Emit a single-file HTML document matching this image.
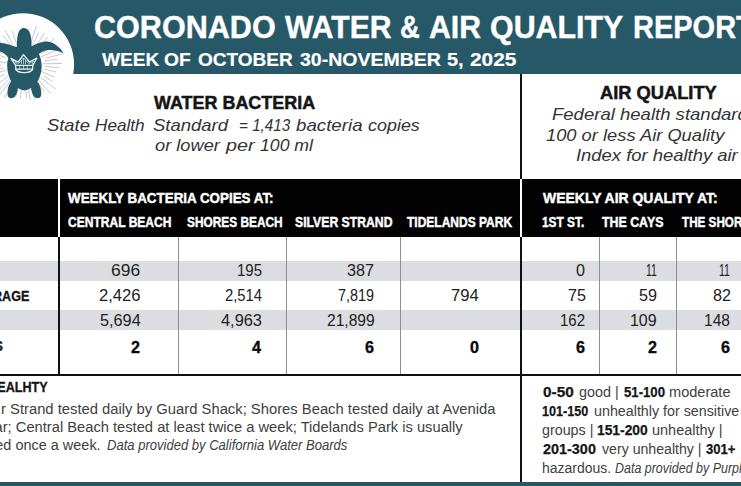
<!DOCTYPE html>
<html><head><meta charset="utf-8">
<style>
html,body{margin:0;padding:0;}
body{width:741px;height:486px;overflow:hidden;position:relative;background:#fff;font-family:"Liberation Sans",sans-serif;}
.r{position:absolute;}
.t{position:absolute;white-space:nowrap;transform-origin:0 0;}
</style></head><body>
<div class="r" style="left:0;top:0;width:741px;height:74px;background:#265868"></div>
<svg class="r" style="left:0;top:0" width="110" height="120" viewBox="0 0 110 120">
  <defs><clipPath id="hc"><rect x="0" y="0" width="110" height="74"/></clipPath></defs>
  <circle cx="23" cy="64.3" r="51.1" fill="#fff" clip-path="url(#hc)"/>
  <g stroke="#a3abad" stroke-width="0.65" stroke-linecap="round"><line x1="43.2" y1="63.8" x2="61.5" y2="63.5"/><line x1="45.4" y1="66.3" x2="59.0" y2="67.8"/><line x1="44.7" y1="69.2" x2="55.6" y2="71.9"/><line x1="41.2" y1="71.4" x2="54.3" y2="77.2"/><line x1="43.8" y1="76.1" x2="52.4" y2="81.3"/><line x1="41.2" y1="77.7" x2="55.1" y2="88.9"/><line x1="37.9" y1="79.2" x2="50.8" y2="93.7"/><line x1="37.8" y1="82.8" x2="44.4" y2="91.8"/><line x1="32.9" y1="80.6" x2="40.2" y2="94.6"/><line x1="29.8" y1="82.3" x2="34.9" y2="99.1"/><line x1="27.6" y1="84.0" x2="30.3" y2="99.9"/><line x1="25.5" y1="82.3" x2="26.5" y2="97.6"/><line x1="21.9" y1="84.4" x2="20.3" y2="98.3"/><line x1="19.2" y1="84.1" x2="15.8" y2="97.3"/><line x1="15.6" y1="84.4" x2="10.9" y2="95.2"/><line x1="13.6" y1="82.3" x2="4.6" y2="97.7"/><line x1="11.9" y1="79.3" x2="-0.7" y2="95.0"/><line x1="9.9" y1="78.6" x2="-2.4" y2="91.2"/><line x1="7.7" y1="76.7" x2="-1.4" y2="83.6"/><line x1="4.2" y1="74.4" x2="-8.2" y2="80.8"/><line x1="5.4" y1="70.3" x2="-11.3" y2="75.9"/><line x1="3.3" y1="68.3" x2="-10.6" y2="71.2"/><line x1="0.7" y1="65.1" x2="-11.5" y2="65.6"/><line x1="6.0" y1="62.5" x2="-13.2" y2="60.9"/><line x1="0.9" y1="58.8" x2="-13.3" y2="55.6"/><line x1="5.1" y1="57.3" x2="-11.0" y2="51.8"/><line x1="5.6" y1="54.9" x2="-5.6" y2="49.3"/><line x1="9.2" y1="53.6" x2="-7.1" y2="42.4"/><line x1="9.9" y1="50.8" x2="-1.6" y2="40.3"/><line x1="13.3" y1="49.1" x2="3.1" y2="35.4"/><line x1="12.7" y1="43.8" x2="5.1" y2="30.5"/><line x1="17.4" y1="45.6" x2="11.9" y2="30.9"/><line x1="31.3" y1="41.8" x2="36.2" y2="26.2"/><line x1="32.2" y1="46.7" x2="38.4" y2="33.2"/><line x1="35.7" y1="46.5" x2="44.3" y2="33.2"/><line x1="36.1" y1="50.4" x2="47.5" y2="37.3"/><line x1="40.6" y1="50.1" x2="54.4" y2="38.3"/><line x1="42.3" y1="53.1" x2="55.9" y2="44.8"/><line x1="41.1" y1="56.8" x2="60.3" y2="48.5"/><line x1="46.8" y1="58.0" x2="61.4" y2="54.1"/><line x1="44.5" y1="61.0" x2="56.8" y2="59.2"/></g>
  <g fill="#265868">
    <path d="M17.2,49 C16.6,41 17.2,34 19.5,30.5 C21,28.6 22.6,28 24,28 C25.6,28 27.4,28.8 28.8,30.8 C31.2,34.4 31.8,41 31.4,49 Z"/>
    <path d="M24.4,44.5 C35,44.5 41.8,55 41.7,66 C41.6,78 35,89 24.4,90.5 C14,89 7.2,78 7.2,66 C7.2,55 14,44.5 24.4,44.5 Z"/>
    <path d="M30.5,47 C35,44 41,41.5 47.5,41.5 C54,42 60,47.5 63.8,53.4 C59,50.8 54,49.6 48,50 C43.5,50.6 40,52.5 36.5,56 Z"/>
    <path d="M18,47.5 C13,46 7,43 0,42.7 C-6,43 -12,48 -15.5,54 C-10,51.5 -5,51 0,51.5 C3,52 6,54 8.6,58.5 Z"/>
    <path d="M12.5,80 C8.5,84 7,90 7.6,95 C8.3,98.8 12.5,99 15,96.5 C17.6,93 18.2,88 17.6,84 Z"/>
    <path d="M36,80 C40,84 41.6,90 41.2,95 C40.6,98.8 36.5,99 34,96.5 C31.4,93 30.6,88 31.2,84 Z"/>
    
  </g>
  <g fill="none" stroke="#e6eff1" stroke-width="1.3" stroke-linejoin="round" stroke-linecap="round">
    <path d="M15.6,65.4 L11,58.4 L18.2,62 L23.5,54.6 L29.4,62 L36.8,58.2 L32.8,65.4 Z"/>
    <path d="M15.6,65.5 L15.8,69.2 L32.6,69.2 L32.8,65.5"/>
    <path d="M15.8,69.4 C18,73.6 30.4,73.6 32.6,69.4"/>
    <path d="M16.4,63.8 L14.8,61.2 L18.6,63.6 L23.5,57.8 L28.8,63.6 L33.4,61 L32.2,63.8" stroke-width="0.7"/>
    <path d="M19.8,65.6 L19.8,69 M23.5,65.6 L23.5,69 M27.2,65.6 L27.2,69 M21.5,60.5 L21.5,63.6 M23.5,58.5 L23.5,63.6 M25.5,60.5 L25.5,63.6" stroke-width="0.7"/>
  </g>
</svg>
<div class="r" style="left:0;top:179px;width:741px;height:58px;background:#020202"></div>
<div class="r" style="left:58px;top:179px;width:2px;height:58px;background:#fff"></div>
<div class="r" style="left:520px;top:179px;width:2px;height:58px;background:#fff"></div>
<div class="r" style="left:0;top:261px;width:741px;height:20px;background:#dcdde0"></div>
<div class="r" style="left:0;top:310px;width:741px;height:20px;background:#dcdde0"></div>
<div class="r" style="left:58px;top:237px;width:2px;height:138px;background:#111"></div>
<div class="r" style="left:520px;top:74px;width:2px;height:105px;background:#111"></div>
<div class="r" style="left:520px;top:237px;width:2px;height:245px;background:#111"></div>
<div class="r" style="left:178px;top:237px;width:1px;height:138px;background:#8f8f8f"></div>
<div class="r" style="left:286px;top:237px;width:1px;height:138px;background:#8f8f8f"></div>
<div class="r" style="left:400px;top:237px;width:1px;height:138px;background:#8f8f8f"></div>
<div class="r" style="left:599px;top:237px;width:1px;height:138px;background:#8f8f8f"></div>
<div class="r" style="left:676px;top:237px;width:1px;height:138px;background:#8f8f8f"></div>
<div class="r" style="left:0;top:374px;width:741px;height:2px;background:#111"></div>
<div class="r" style="left:0;top:482px;width:741px;height:4px;background:#265868"></div>
<div id="tw0" class="t" style="left:94.00px;top:9.00px;font-size:30.5px;line-height:36.6px;font-weight:bold;font-style:normal;color:#ffffff;transform:scaleX(1.0022);-webkit-text-stroke-width:0.4px">CORONADO</div>
<div id="tw1" class="t" style="left:285.20px;top:9.00px;font-size:30.5px;line-height:36.6px;font-weight:bold;font-style:normal;color:#ffffff;transform:scaleX(0.9879);-webkit-text-stroke-width:0.4px">WATER</div>
<div id="tw2" class="t" style="left:400.00px;top:9.00px;font-size:30.5px;line-height:36.6px;font-weight:bold;font-style:normal;color:#ffffff;transform:scaleX(0.8952);-webkit-text-stroke-width:0.4px">&amp;</div>
<div id="tw3" class="t" style="left:429.01px;top:9.00px;font-size:30.5px;line-height:36.6px;font-weight:bold;font-style:normal;color:#ffffff;transform:scaleX(0.9902);-webkit-text-stroke-width:0.4px">AIR</div>
<div id="tw4" class="t" style="left:489.80px;top:9.00px;font-size:30.5px;line-height:36.6px;font-weight:bold;font-style:normal;color:#ffffff;transform:scaleX(0.9962);-webkit-text-stroke-width:0.4px">QUALITY</div>
<div id="tw5" class="t" style="left:633.00px;top:9.00px;font-size:30.5px;line-height:36.6px;font-weight:bold;font-style:normal;color:#ffffff;transform:scaleX(0.9504);-webkit-text-stroke-width:0.4px">REPORT</div>
<div id="sw0" class="t" style="left:101.70px;top:49.00px;font-size:19px;line-height:22.8px;font-weight:bold;font-style:normal;color:#ffffff;transform:scaleX(1.0070);-webkit-text-stroke-width:0.2px">WEEK</div>
<div id="sw1" class="t" style="left:164.49px;top:49.00px;font-size:19px;line-height:22.8px;font-weight:bold;font-style:normal;color:#ffffff;transform:scaleX(1.0120);-webkit-text-stroke-width:0.2px">OF</div>
<div id="sw2" class="t" style="left:198.20px;top:49.00px;font-size:19px;line-height:22.8px;font-weight:bold;font-style:normal;color:#ffffff;transform:scaleX(1.0011);-webkit-text-stroke-width:0.2px">OCTOBER</div>
<div id="sw3" class="t" style="left:299.90px;top:49.00px;font-size:19px;line-height:22.8px;font-weight:bold;font-style:normal;color:#ffffff;transform:scaleX(1.0270);-webkit-text-stroke-width:0.2px">30-NOVEMBER</div>
<div id="sw4" class="t" style="left:447.16px;top:49.00px;font-size:19px;line-height:22.8px;font-weight:bold;font-style:normal;color:#ffffff;transform:scaleX(1.0429);-webkit-text-stroke-width:0.2px">5,</div>
<div id="sw5" class="t" style="left:470.40px;top:49.00px;font-size:19px;line-height:22.8px;font-weight:bold;font-style:normal;color:#ffffff;transform:scaleX(1.0976);-webkit-text-stroke-width:0.2px">2025</div>
<div id="wb" class="t" style="left:154.00px;top:92.00px;font-size:18.5px;line-height:22.2px;font-weight:bold;font-style:normal;color:#151515;transform:scaleX(0.9699);-webkit-text-stroke-width:0.5px">WATER BACTERIA</div>
<div id="wi1_0" class="t" style="left:47.32px;top:116.00px;font-size:17px;line-height:20.4px;font-weight:normal;font-style:italic;color:#333333;transform:scaleX(1.0816)">State</div>
<div id="wi1_1" class="t" style="left:95.29px;top:116.00px;font-size:17px;line-height:20.4px;font-weight:normal;font-style:italic;color:#333333;transform:scaleX(1.0083)">Health</div>
<div id="wi1_2" class="t" style="left:153.11px;top:116.00px;font-size:17px;line-height:20.4px;font-weight:normal;font-style:italic;color:#333333;transform:scaleX(1.0855)">Standard</div>
<div id="wi1_3" class="t" style="left:239.20px;top:116.00px;font-size:17px;line-height:20.4px;font-weight:normal;font-style:italic;color:#333333;transform:scaleX(0.8964)">= 1,413</div>
<div id="wi1_4" class="t" style="left:296.40px;top:116.00px;font-size:17px;line-height:20.4px;font-weight:normal;font-style:italic;color:#333333;transform:scaleX(1.1000)">bacteria</div>
<div id="wi1_5" class="t" style="left:368.05px;top:116.00px;font-size:17px;line-height:20.4px;font-weight:normal;font-style:italic;color:#333333;transform:scaleX(1.0542)">copies</div>
<div id="wi2_0" class="t" style="left:154.90px;top:136.00px;font-size:17px;line-height:20.4px;font-weight:normal;font-style:italic;color:#333333;transform:scaleX(1.0738)">or lower</div>
<div id="wi2_1" class="t" style="left:225.90px;top:136.00px;font-size:17px;line-height:20.4px;font-weight:normal;font-style:italic;color:#333333;transform:scaleX(1.1600)">per</div>
<div id="wi2_2" class="t" style="left:259.80px;top:136.00px;font-size:17px;line-height:20.4px;font-weight:normal;font-style:italic;color:#333333;transform:scaleX(1.0385)">100 ml</div>
<div id="aq" class="t" style="left:599.70px;top:82.00px;font-size:18.5px;line-height:22.2px;font-weight:bold;font-style:normal;color:#151515;transform:scaleX(0.9881);-webkit-text-stroke-width:0.5px">AIR QUALITY</div>
<div id="ai1" class="t" style="left:551.91px;top:105.00px;font-size:17px;line-height:20.4px;font-weight:normal;font-style:italic;color:#333333;transform:scaleX(1.0900)">Federal health standard</div>
<div id="ai2" class="t" style="left:546.00px;top:126.00px;font-size:17px;line-height:20.4px;font-weight:normal;font-style:italic;color:#333333;transform:scaleX(1.0766)">100 or less Air Quality</div>
<div id="ai3" class="t" style="left:575.52px;top:146.00px;font-size:17px;line-height:20.4px;font-weight:normal;font-style:italic;color:#333333;transform:scaleX(1.0832)">Index for healthy air</div>
<div id="bh1" class="t" style="left:67.60px;top:190.00px;font-size:14.9px;line-height:17.88px;font-weight:bold;font-style:normal;color:#ffffff;transform:scaleX(0.8991);-webkit-text-stroke-width:0.45px">WEEKLY BACTERIA COPIES AT:</div>
<div id="bc1" class="t" style="left:67.60px;top:214.00px;font-size:14.6px;line-height:17.52px;font-weight:bold;font-style:normal;color:#ffffff;transform:scaleX(0.8248);-webkit-text-stroke-width:0.45px">CENTRAL BEACH</div>
<div id="bc2" class="t" style="left:187.30px;top:214.00px;font-size:14.6px;line-height:17.52px;font-weight:bold;font-style:normal;color:#ffffff;transform:scaleX(0.8137);-webkit-text-stroke-width:0.45px">SHORES BEACH</div>
<div id="bc3" class="t" style="left:294.60px;top:214.00px;font-size:14.6px;line-height:17.52px;font-weight:bold;font-style:normal;color:#ffffff;transform:scaleX(0.8371);-webkit-text-stroke-width:0.45px">SILVER STRAND</div>
<div id="bc4" class="t" style="left:407.30px;top:214.00px;font-size:14.6px;line-height:17.52px;font-weight:bold;font-style:normal;color:#ffffff;transform:scaleX(0.8219);-webkit-text-stroke-width:0.45px">TIDELANDS PARK</div>
<div id="bh2" class="t" style="left:543.30px;top:190.00px;font-size:14.9px;line-height:17.88px;font-weight:bold;font-style:normal;color:#ffffff;transform:scaleX(0.9378);-webkit-text-stroke-width:0.45px">WEEKLY AIR QUALITY AT:</div>
<div id="ba1" class="t" style="left:542.49px;top:214.00px;font-size:14.6px;line-height:17.52px;font-weight:bold;font-style:normal;color:#ffffff;transform:scaleX(0.8140);-webkit-text-stroke-width:0.45px">1ST ST.</div>
<div id="ba2" class="t" style="left:602.00px;top:214.00px;font-size:14.6px;line-height:17.52px;font-weight:bold;font-style:normal;color:#ffffff;transform:scaleX(0.8472);-webkit-text-stroke-width:0.45px">THE CAYS</div>
<div id="ba3" class="t" style="left:681.60px;top:214.00px;font-size:14.6px;line-height:17.52px;font-weight:bold;font-style:normal;color:#ffffff;transform:scaleX(0.8000);-webkit-text-stroke-width:0.45px">THE SHORES</div>
<div id="lab2" class="t" style="left:-31.90px;top:288.00px;font-size:14px;line-height:16.8px;font-weight:bold;font-style:normal;color:#151515;transform:scaleX(0.9000);-webkit-text-stroke-width:0.3px">AVERAGE</div>
<div id="lab4" class="t" style="left:-31.30px;top:338.00px;font-size:14px;line-height:16.8px;font-weight:bold;font-style:normal;color:#151515;transform:scaleX(0.9000);-webkit-text-stroke-width:0.3px">DAYS</div>
<div id="unh" class="t" style="left:-30.40px;top:379.00px;font-size:14px;line-height:16.8px;font-weight:bold;font-style:normal;color:#151515;transform:scaleX(0.9000);-webkit-text-stroke-width:0.3px">UNHEALHTY</div>
<div id="n00" class="t" style="left:111.27px;top:261.00px;font-size:17px;line-height:20.4px;font-weight:normal;font-style:normal;color:#222222;transform:scaleX(1.0259)">696</div>
<div id="n01" class="t" style="left:99.02px;top:286.00px;font-size:17px;line-height:20.4px;font-weight:normal;font-style:normal;color:#222222;transform:scaleX(0.9756)">2,426</div>
<div id="n02" class="t" style="left:99.84px;top:311.00px;font-size:17px;line-height:20.4px;font-weight:normal;font-style:normal;color:#222222;transform:scaleX(0.9561)">5,694</div>
<div id="n03" class="t" style="left:131.45px;top:338.00px;font-size:17px;line-height:20.4px;font-weight:bold;font-style:normal;color:#0a0a0a;transform:scaleX(0.9500);-webkit-text-stroke-width:0.35px">2</div>
<div id="n10" class="t" style="left:236.72px;top:261.00px;font-size:17px;line-height:20.4px;font-weight:normal;font-style:normal;color:#222222;transform:scaleX(0.8815)">195</div>
<div id="n11" class="t" style="left:224.83px;top:286.00px;font-size:17px;line-height:20.4px;font-weight:normal;font-style:normal;color:#222222;transform:scaleX(0.8707)">2,514</div>
<div id="n12" class="t" style="left:221.00px;top:311.00px;font-size:17px;line-height:20.4px;font-weight:normal;font-style:normal;color:#222222;transform:scaleX(0.9619)">4,963</div>
<div id="n13" class="t" style="left:251.90px;top:338.00px;font-size:17px;line-height:20.4px;font-weight:bold;font-style:normal;color:#0a0a0a;transform:scaleX(0.9500);-webkit-text-stroke-width:0.35px">4</div>
<div id="n20" class="t" style="left:347.20px;top:261.00px;font-size:17px;line-height:20.4px;font-weight:normal;font-style:normal;color:#222222;transform:scaleX(0.9500)">387</div>
<div id="n21" class="t" style="left:338.15px;top:286.00px;font-size:17px;line-height:20.4px;font-weight:normal;font-style:normal;color:#222222;transform:scaleX(0.8488)">7,819</div>
<div id="n22" class="t" style="left:326.98px;top:311.00px;font-size:17px;line-height:20.4px;font-weight:normal;font-style:normal;color:#222222;transform:scaleX(0.9180)">21,899</div>
<div id="n23" class="t" style="left:365.25px;top:338.00px;font-size:17px;line-height:20.4px;font-weight:bold;font-style:normal;color:#0a0a0a;transform:scaleX(0.9500);-webkit-text-stroke-width:0.35px">6</div>
<div id="n31" class="t" style="left:451.32px;top:286.00px;font-size:17px;line-height:20.4px;font-weight:normal;font-style:normal;color:#222222;transform:scaleX(0.9778)">794</div>
<div id="n33" class="t" style="left:470.15px;top:338.00px;font-size:17px;line-height:20.4px;font-weight:bold;font-style:normal;color:#0a0a0a;transform:scaleX(0.9500);-webkit-text-stroke-width:0.35px">0</div>
<div id="n40" class="t" style="left:576.15px;top:261.00px;font-size:17px;line-height:20.4px;font-weight:normal;font-style:normal;color:#222222;transform:scaleX(0.9500)">0</div>
<div id="n41" class="t" style="left:567.60px;top:286.00px;font-size:17px;line-height:20.4px;font-weight:normal;font-style:normal;color:#222222;transform:scaleX(0.9500)">75</div>
<div id="n42" class="t" style="left:560.02px;top:311.00px;font-size:17px;line-height:20.4px;font-weight:normal;font-style:normal;color:#222222;transform:scaleX(0.8815)">162</div>
<div id="n43" class="t" style="left:576.15px;top:338.00px;font-size:17px;line-height:20.4px;font-weight:bold;font-style:normal;color:#0a0a0a;transform:scaleX(0.9500);-webkit-text-stroke-width:0.35px">6</div>
<div id="n50" class="t" style="left:645.89px;top:261.00px;font-size:17px;line-height:20.4px;font-weight:normal;font-style:normal;color:#222222;transform:scaleX(0.6125)">11</div>
<div id="n51" class="t" style="left:639.20px;top:286.00px;font-size:17px;line-height:20.4px;font-weight:normal;font-style:normal;color:#222222;transform:scaleX(0.9500)">59</div>
<div id="n52" class="t" style="left:630.06px;top:311.00px;font-size:17px;line-height:20.4px;font-weight:normal;font-style:normal;color:#222222;transform:scaleX(0.9370)">109</div>
<div id="n53" class="t" style="left:647.75px;top:338.00px;font-size:17px;line-height:20.4px;font-weight:bold;font-style:normal;color:#0a0a0a;transform:scaleX(0.9500);-webkit-text-stroke-width:0.35px">2</div>
<div id="n60" class="t" style="left:719.29px;top:261.00px;font-size:17px;line-height:20.4px;font-weight:normal;font-style:normal;color:#222222;transform:scaleX(0.6125)">11</div>
<div id="n61" class="t" style="left:712.60px;top:286.00px;font-size:17px;line-height:20.4px;font-weight:normal;font-style:normal;color:#222222;transform:scaleX(0.9500)">82</div>
<div id="n62" class="t" style="left:704.09px;top:311.00px;font-size:17px;line-height:20.4px;font-weight:normal;font-style:normal;color:#222222;transform:scaleX(0.9148)">148</div>
<div id="n63" class="t" style="left:721.15px;top:338.00px;font-size:17px;line-height:20.4px;font-weight:bold;font-style:normal;color:#0a0a0a;transform:scaleX(0.9500);-webkit-text-stroke-width:0.35px">6</div>
<div id="bl1" class="t" style="left:1.41px;top:400.00px;font-size:15.2px;line-height:18.24px;font-weight:normal;font-style:normal;color:#404040;transform:scaleX(0.9736)">r Strand tested daily by Guard Shack; Shores Beach tested daily at Avenida</div>
<div id="bl2" class="t" style="left:-20.65px;top:418.00px;font-size:15.2px;line-height:18.24px;font-weight:normal;font-style:normal;color:#404040;transform:scaleX(0.9679)">year; Central Beach tested at least twice a week; Tidelands Park is usually</div>
<div id="bl3" class="t" style="left:-27.70px;top:436.00px;font-size:15.2px;line-height:18.24px;font-weight:normal;font-style:normal;color:#404040;transform:scaleX(0.9523)">tested once a week.</div>
<div id="bl3i" class="t" style="left:106.60px;top:438.00px;font-size:13.8px;line-height:16.56px;font-weight:normal;font-style:italic;color:#404040;transform:scaleX(0.9449)">Data provided by California Water Boards</div>
<div id="rs0" class="t" style="left:543.20px;top:383.00px;font-size:15.5px;line-height:18.6px;font-weight:bold;font-style:normal;color:#151515;transform:scaleX(0.9903);-webkit-text-stroke-width:0.25px">0-50</div>
<div id="rs1" class="t" style="left:578.57px;top:383.00px;font-size:15.5px;line-height:18.6px;font-weight:normal;font-style:normal;color:#404040;transform:scaleX(0.9268)">good |</div>
<div id="rs2" class="t" style="left:623.60px;top:383.00px;font-size:15.5px;line-height:18.6px;font-weight:bold;font-style:normal;color:#151515;transform:scaleX(0.8500);-webkit-text-stroke-width:0.25px">51-100</div>
<div id="rs3" class="t" style="left:668.56px;top:383.00px;font-size:15.5px;line-height:18.6px;font-weight:normal;font-style:normal;color:#404040;transform:scaleX(0.9391)">moderate</div>
<div id="rs4" class="t" style="left:542.39px;top:402.00px;font-size:15.5px;line-height:18.6px;font-weight:bold;font-style:normal;color:#151515;transform:scaleX(0.8125);-webkit-text-stroke-width:0.25px">101-150</div>
<div id="rs5" class="t" style="left:594.18px;top:402.00px;font-size:15.5px;line-height:18.6px;font-weight:normal;font-style:normal;color:#404040;transform:scaleX(0.9212)">unhealthly for sensitive</div>
<div id="rs6" class="t" style="left:542.28px;top:421.00px;font-size:15.5px;line-height:18.6px;font-weight:normal;font-style:normal;color:#404040;transform:scaleX(0.9222)">groups |</div>
<div id="rs7" class="t" style="left:597.31px;top:421.00px;font-size:15.5px;line-height:18.6px;font-weight:bold;font-style:normal;color:#151515;transform:scaleX(0.8911);-webkit-text-stroke-width:0.25px">151-200</div>
<div id="rs8" class="t" style="left:652.27px;top:421.00px;font-size:15.5px;line-height:18.6px;font-weight:normal;font-style:normal;color:#404040;transform:scaleX(0.9342)">unhealthy |</div>
<div id="rs9" class="t" style="left:543.20px;top:440.00px;font-size:15.5px;line-height:18.6px;font-weight:bold;font-style:normal;color:#151515;transform:scaleX(0.9298);-webkit-text-stroke-width:0.25px">201-300</div>
<div id="rs10" class="t" style="left:601.50px;top:440.00px;font-size:15.5px;line-height:18.6px;font-weight:normal;font-style:normal;color:#404040;transform:scaleX(0.9120)">very unhealthy |</div>
<div id="rs11" class="t" style="left:706.20px;top:440.00px;font-size:15.5px;line-height:18.6px;font-weight:bold;font-style:normal;color:#151515;transform:scaleX(0.8429);-webkit-text-stroke-width:0.25px">301+</div>
<div id="rs12" class="t" style="left:542.30px;top:459.00px;font-size:15.5px;line-height:18.6px;font-weight:normal;font-style:normal;color:#404040;transform:scaleX(0.9000)">hazardous.</div>
<div id="rs_data" class="t" style="left:615.30px;top:460.00px;font-size:14px;line-height:16.8px;font-weight:normal;font-style:italic;color:#404040;transform:scaleX(0.8900)">Data provided by PurpleAir</div>
</body></html>
